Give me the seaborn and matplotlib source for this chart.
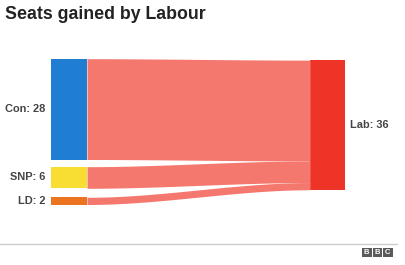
import numpy as np
import matplotlib
matplotlib.use("Agg")
import matplotlib.pyplot as plt
from matplotlib.patches import Rectangle
import seaborn as sns

# ---- data ----
sources = ["Con", "SNP", "LD"]
source_seats = [28, 6, 2]
target = "Lab"
target_seats = 36
source_colors = ["#1F7DD2", "#F8DD33", "#EB7420"]
target_color = "#EE3427"
flow_color = "#F4786D"
title = "Seats gained by Labour"

sns.set_theme(style="white")
plt.rcParams["font.family"] = ["Liberation Sans", "DejaVu Sans"]

W, H = 405, 265
fig = plt.figure(figsize=(W / 100, H / 100), dpi=100)
fig.patch.set_facecolor("white")
ax = fig.add_axes([0, 0, 1, 1])
ax.set_axis_off()

# layout (pixels horizontally, seats vertically)
top_px, scale = 58.7, 3.6
ax.set_xlim(0, W)
ax.set_ylim((H - top_px) / scale, -top_px / scale)
left_x0, left_x1 = 51, 87
right_x0, right_x1 = 310, 345
gaps = [0, 2.0, 2.5]
right_top = 0.4

# left nodes
lefts = []
y = 0.0
for i, (name, seats, col) in enumerate(zip(sources, source_seats, source_colors)):
    y += gaps[i]
    lefts.append((y, y + seats))
    ax.bar(left_x0, seats, bottom=y, width=left_x1 - left_x0, align="edge",
           color=col, linewidth=0)
    ax.text(left_x0 - 6, y + seats / 2, f"{name}: {seats}", ha="right", va="center",
            fontsize=7.9, fontweight="bold", color="#444444")
    y += seats

# right node
ax.bar(right_x0, target_seats, bottom=right_top, width=right_x1 - right_x0,
       align="edge", color=target_color, linewidth=0)
ax.text(right_x1 + 5, right_top + target_seats / 2, f"{target}: {target_seats}",
        ha="left", va="center", fontsize=7.9, fontweight="bold", color="#444444")

# flows
t = np.linspace(0, 1, 200)
s = 3 * t ** 2 - 2 * t ** 3
xs = left_x1 + (right_x0 - left_x1) * t
ry = right_top
for (l0, l1), seats in zip(lefts, source_seats):
    r0, r1 = ry, ry + seats
    ry = r1
    top = l0 + (r0 - l0) * s
    bot = l1 + (r1 - l1) * s
    ax.fill_between(xs, top, bot, color=flow_color, linewidth=0)

# title
fig.text(5 / W, 1 - 19 / H, title, fontsize=12.8, fontweight="bold",
         color="#222222", ha="left", va="baseline")

# footer line
fig.add_artist(plt.Line2D([0, 397 / W], [1 - 244 / H, 1 - 244 / H],
                          color="#CCCCCC", linewidth=1, transform=fig.transFigure))

# BBC logo
for k, letter in enumerate("BBC"):
    x0 = 362 + k * 10.5
    fig.add_artist(Rectangle((x0 / W, 1 - 256.5 / H), 9.5 / W, 8.5 / H,
                             transform=fig.transFigure, facecolor="#5A5A5A",
                             edgecolor="none"))
    fig.text((x0 + 4.75) / W, 1 - 252.3 / H, letter, fontsize=5.5,
             fontweight="bold", color="white", ha="center", va="center")

fig.savefig("out.png", dpi=100, facecolor="white")
